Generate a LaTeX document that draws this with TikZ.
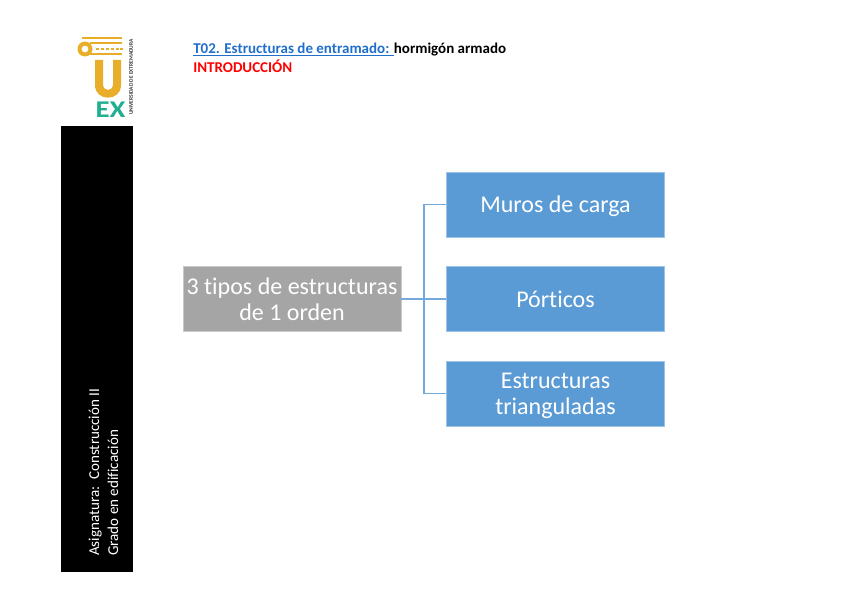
\documentclass[tikz,border=0pt]{standalone}
\usepackage{fontspec}
\setmainfont{Carlito}[Ligatures=NoCommon]
\usetikzlibrary{positioning}
\definecolor{boxblue}{HTML}{5B9BD5}
\definecolor{boxgray}{HTML}{A5A5A5}
\definecolor{logoyellow}{HTML}{E8AE2A}
\definecolor{logogreen}{HTML}{1FAE8F}
\definecolor{linkblue}{HTML}{1F6FCB}
\tikzset{
  optionbox/.style={fill=boxblue, draw=boxblue!60!white, line width=0.5pt, text=white, minimum width=163.5pt, minimum height=49pt, align=center, font=\fontsize{18}{19.5}\selectfont, inner sep=0pt},
  rootbox/.style={optionbox, fill=boxgray, draw=boxgray!60!white},
  link/.style={draw=boxblue!85!white, line width=1pt},
  headline/.style={anchor=west, inner sep=0pt, font=\bfseries\fontsize{11.25}{13}\selectfont}
}
\begin{document}
\begin{tikzpicture}[x=0.75pt, y=-0.75pt]
  \useasboundingbox (0,0) rectangle (848,599);

  % Side band
  \fill[black] (61,126) rectangle (133,572);
  \node[rotate=90, anchor=west, align=left, text=white, inner sep=0pt, font=\fontsize{11.3}{14.25}\selectfont] (band) at (103.5,556)
    {Asignatura:\ \ Construcción II\\Grado en edificación};

  % Logo: capital
  \fill[logoyellow] (82,37) rectangle (122,39.5);
  \fill[logoyellow] (90,42.5) rectangle (122,44.5);
  \fill[logoyellow] (90,53.5) rectangle (122,55.5);
  \fill[logoyellow, even odd rule] (85,49) circle (7.5) (85,49) circle (3.5);
  \foreach \x in {97,102,107,112,117,121}
    \fill[logoyellow] (\x-1.5,48) rectangle (\x+1.5,50.5);
  % Logo: letter
  \fill[logoyellow] (95,60) -- (103,60) -- (103,84) .. controls (103,92) and (113,92) .. (113,84)
    -- (113,60) -- (121,60) -- (121,85) .. controls (121,102) and (95,102) .. (95,85) -- cycle;
  \node[anchor=center, inner sep=0pt, xscale=1.2, text=logogreen, font=\bfseries\fontsize{18}{18}\selectfont] (logoex) at (110.5,109.5) {EX};
  \node[rotate=90, inner sep=0pt, text=black!80, font=\bfseries\fontsize{4.1}{4.1}\selectfont] (logoname) at (131,77) {UNIVERSIDAD DE EXTREMADURA};

  % Heading
  \node[headline] (title) at (193,49.5) {\textcolor{linkblue}{\underline{T02. Estructuras de entramado: }}hormigón armado};
  \node[headline, text=red] (subtitle) at (193,66) {INTRODUCCIÓN};

  % Boxes
  \node[rootbox] (root) at (292,299) {3 tipos de estructuras\\de 1 orden};
  \node[optionbox, text height=13pt, text depth=1pt] (muros) at (555.5,204.5) {Muros de carga};
  \node[optionbox, text height=13pt, text depth=1pt] (porticos) at (555.5,299) {Pórticos};
  \node[optionbox, text depth=0pt] (triang) at (555.5,393.5) {Estructuras\\trianguladas};

  % Connectors
  \coordinate (fork) at (424,299);
  \draw[link] (root.east) -- (porticos.west);
  \draw[link] (muros.west) -| (fork) |- (triang.west);
\end{tikzpicture}
\end{document}
